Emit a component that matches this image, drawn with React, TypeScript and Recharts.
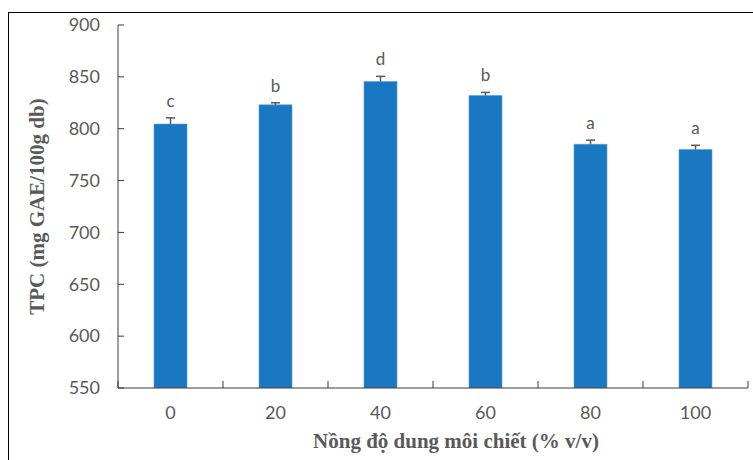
import React from 'react';
import {
  ComposedChart,
  Bar,
  XAxis,
  YAxis,
  LabelList,
} from 'recharts';

// values
const concentrations = ['0', '20', '40', '60', '80', '100'];
const tpcMeans = [804.5, 823, 845.5, 832, 785, 780];
const tpcSd = [6, 2, 5, 3, 4, 4];
const sigLetters = ['c', 'b', 'd', 'b', 'a', 'a'];
const yTicks = [550, 600, 650, 700, 750, 800, 850, 900];

const GRAY = '#595959';
const AXIS = '#3a3a3a';
const TICK_FONT = 'Lato, "Open Sans", sans-serif';
const TITLE_FONT = '"Liberation Serif", "Times New Roman", serif';

const data = concentrations.map((c, i) => ({
  conc: c,
  mean: tpcMeans[i],
  sd: tpcSd[i],
  sig: sigLetters[i],
}));

// x ticks: label under the category, tick mark at the category boundaries
const XTick = (props: any) => {
  const { x, y, payload, index, visibleTicksCount } = props;
  const half = payload?.offset ?? 0;
  const last = index === visibleTicksCount - 1;
  return (
    <g>
      <line x1={x - half} x2={x - half} y1={y} y2={y - 7} stroke={AXIS} strokeWidth={1} />
      {last && <line x1={x + half} x2={x + half} y1={y} y2={y - 7} stroke={AXIS} strokeWidth={1} />}
      <text x={x} y={y + 31} textAnchor="middle" fill={GRAY} fontSize={18} fontFamily={TICK_FONT}>
        {payload.value}
      </text>
    </g>
  );
};

// y ticks: marks point into the plot
const YTick = (props: any) => {
  const { x, y, payload } = props;
  return (
    <g>
      <line x1={x} x2={x + 6} y1={y} y2={y} stroke={AXIS} strokeWidth={1} />
      <text x={x - 18} y={y} dy="0.35em" textAnchor="end" fill={GRAY} fontSize={18} fontFamily={TICK_FONT}>
        {payload.value}
      </text>
    </g>
  );
};

// stacked sd segment drawn as an upward error bar
const ErrorShape = (props: any) => {
  const { x, y, width, height } = props;
  const cx = x + width / 2;
  return (
    <g>
      <line x1={cx} x2={cx} y1={y + height} y2={y} stroke={GRAY} strokeWidth={1.5} />
      <line x1={cx - 4.5} x2={cx + 4.5} y1={y} y2={y} stroke={GRAY} strokeWidth={1.5} />
    </g>
  );
};

const SigLabel = (props: any) => {
  const { x, y, width, value } = props;
  return (
    <text x={x + width / 2} y={y - 11} textAnchor="middle" fill={GRAY} fontSize={17} fontFamily={TICK_FONT}>
      {value}
    </text>
  );
};

const XTitle = (props: any) => {
  const { viewBox } = props;
  return (
    <text
      x={viewBox.x + viewBox.width / 2 + 23}
      y={viewBox.y + 60}
      textAnchor="middle"
      fill={GRAY}
      fontSize={21}
      fontWeight="bold"
      fontFamily={TITLE_FONT}
    >
      Nồng độ dung môi chiết (% v/v)
    </text>
  );
};

const YTitle = (props: any) => {
  const { viewBox } = props;
  const cx = viewBox.x - 1;
  const cy = viewBox.y + viewBox.height / 2;
  return (
    <text
      x={0}
      y={0}
      transform={`translate(${cx},${cy}) rotate(-90)`}
      textAnchor="middle"
      dominantBaseline="central"
      fill={GRAY}
      fontSize={21}
      fontWeight="bold"
      fontFamily={TITLE_FONT}
    >
      TPC (mg GAE/100g db)
    </text>
  );
};

export default function App() {
  return (
    <div style={{ position: 'fixed', left: 0, top: 0, width: 753, height: 460, overflow: 'hidden', background: '#fff' }}>
      <div
        style={{
          position: 'absolute',
          left: 8,
          top: 12,
          width: 800,
          height: 500,
          border: '1px solid #000',
        }}
      />
      <div style={{ position: 'absolute', left: 0, top: 0 }}>
        <ComposedChart
          width={753}
          height={460}
          data={data}
          margin={{ top: 25, right: 5, left: 38, bottom: 12 }}
        >
          <XAxis
            dataKey="conc"
            height={60}
            tickSize={0}
            tickMargin={0}
            tickLine={false}
            axisLine={{ stroke: AXIS, strokeWidth: 1 }}
            tick={<XTick />}
            interval={0}
            label={<XTitle />}
          />
          <YAxis
            width={80}
            domain={[550, 900]}
            ticks={yTicks}
            allowDataOverflow
            tickSize={0}
            tickMargin={0}
            tickLine={false}
            axisLine={{ stroke: AXIS, strokeWidth: 1 }}
            tick={<YTick />}
            label={<YTitle />}
          />
          <Bar
            dataKey="mean"
            stackId="tpc"
            barSize={33}
            fill="#1A78C2"
            stroke="#5B9BD5"
            strokeWidth={0.6}
            isAnimationActive={false}
          />
          <Bar
            dataKey="sd"
            stackId="tpc"
            barSize={33}
            shape={<ErrorShape />}
            isAnimationActive={false}
          >
            <LabelList dataKey="sig" content={<SigLabel />} />
          </Bar>
        </ComposedChart>
      </div>
    </div>
  );
}
